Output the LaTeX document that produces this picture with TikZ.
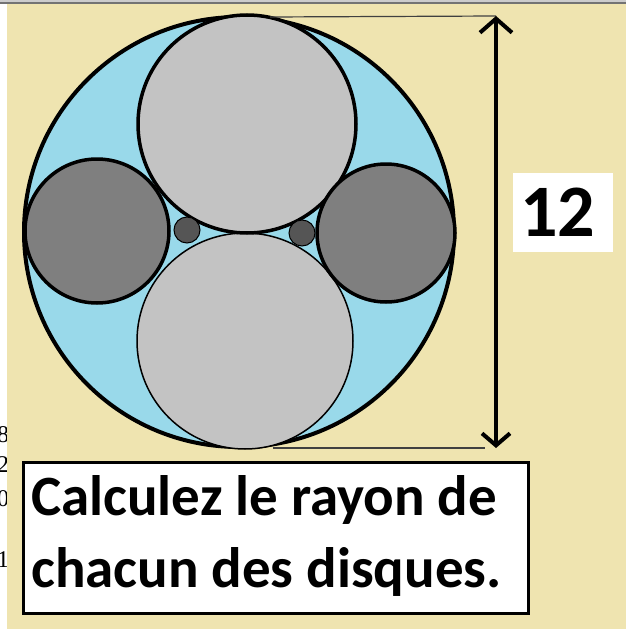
\documentclass[tikz,border=0pt]{standalone}
\usepackage{fontspec}
\setmainfont{Carlito}
\newfontfamily\seriffont{Liberation Serif}
\usetikzlibrary{arrows.meta}
\definecolor{beige}{HTML}{EFE4B0}
\definecolor{sky}{HTML}{99D9EA}
\definecolor{lgray}{HTML}{C3C3C3}
\definecolor{mgray}{HTML}{7F7F7F}
\definecolor{dgray}{HTML}{555555}
\begin{document}
\begin{tikzpicture}[x=1pt,y=-1pt,
  disc/.style={circle,draw=black,inner sep=0pt,outer sep=0pt},
  thinline/.style={line width=1.2pt,draw=black!75},
  bigtext/.style={font=\fontsize{57}{72}\selectfont\bfseries,inner sep=0pt,anchor=base west},
  stray/.style={font=\seriffont\fontsize{24}{24}\selectfont,inner sep=0pt,anchor=base west}]
\useasboundingbox (0,0) rectangle (626,629);
\fill[white] (0,0) rectangle (626,629);
% stray digits at the left edge
\node[stray] (d8) at (-3,442) {8};
\node[stray] (d2) at (-3,472) {2};
\node[stray] (d0) at (-3,506) {0};
\node[stray] (d1) at (-3,567) {1};
\fill[beige] (7,4) rectangle (626,629);
\fill[black!55] (0,1.5) rectangle (626,3.5);
\fill[black!20] (0,0) rectangle (626,1.5);
% circles
\node[disc,fill=sky,line width=4pt,minimum size=430pt] (big) at (239,232) {};
\node[disc,fill=lgray,line width=1.5pt,minimum size=216pt] (low) at (245,341) {};
\node[disc,fill=lgray,line width=3.5pt,minimum size=218pt] (up) at (247,124) {};
\node[disc,fill=mgray,line width=3.5pt,minimum size=144pt] (left) at (97,231) {};
\node[disc,fill=mgray,line width=3.5pt,minimum size=138pt] (right) at (386,233) {};
\node[disc,fill=dgray,line width=1pt,minimum size=26pt] (sl) at (187,230) {};
\node[disc,fill=dgray,line width=1pt,minimum size=26pt] (sr) at (302,233) {};
% dimension
\coordinate (ta) at (496,16);
\coordinate (ba) at (496,448);
\coordinate (tl) at (270,17);
\coordinate (bl) at (273,448);
\coordinate (br) at (485,448);
\draw[thinline] (tl) -- (ta);
\draw[thinline] (bl) -- (br);
\draw[line width=4pt,{Straight Barb[length=14pt,width=32pt,line width=4pt]}-{Straight Barb[length=12pt,width=28pt,line width=4pt]}] (ta) -- (ba);
% 12 label
\fill[white] (513,173) rectangle (613,252);
\node[font=\fontsize{74}{74}\selectfont\bfseries,inner sep=0pt,anchor=base west] (twelve) at (520,236) {12};
% question box
\draw[line width=3pt,fill=white] (23,462) rectangle (528,613);
\node[bigtext] (l1) at (31,515) {Calculez le rayon de};
\node[bigtext] (l2) at (31,587) {chacun des disques.};
\end{tikzpicture}
\end{document}
